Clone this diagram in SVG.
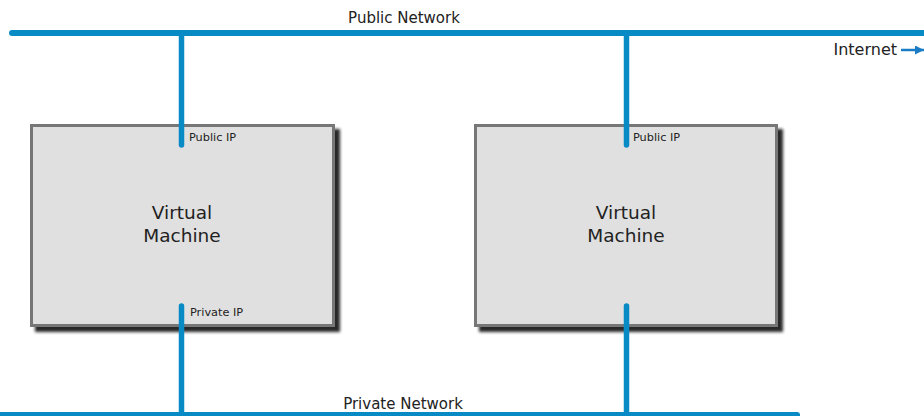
<svg xmlns="http://www.w3.org/2000/svg" width="924" height="416" viewBox="0 0 924 416">
<style>
.net{stroke:#088bc4;stroke-width:6;stroke-linecap:round;fill:none}
.link{stroke:#088bc4;stroke-width:5.5;stroke-linecap:round;fill:none}
.box{fill:#e0e0e0;stroke:#777;stroke-width:3;filter:url(#sh)}
text{font-family:"DejaVu Sans","Verdana",sans-serif;fill:#222}
.lbl{font-size:15px}
.vm{font-size:18.5px;text-anchor:middle}
.ip{font-size:11.3px}
</style>
<defs>
<filter id="sh" x="-10%" y="-10%" width="130%" height="130%">
<feDropShadow dx="5" dy="5" stdDeviation="1.4" flood-color="#1a1a1a" flood-opacity="0.95"/>
</filter>
<marker id="arr" viewBox="0 0 10 10" refX="10" refY="5" markerWidth="3.6" markerHeight="3.6" orient="auto" markerUnits="strokeWidth">
<path d="M0,0 L10,5 L0,10 z" fill="#1a7cc4"/>
</marker>
</defs>
<g id="vm1">
<rect class="box" x="31.5" y="125.5" width="302" height="200"/>
<text class="vm" x="182" y="219">Virtual</text>
<text class="vm" x="182" y="242">Machine</text>
<text class="ip" x="189" y="141">Public IP</text>
<text class="ip" x="190" y="316">Private IP</text>
</g>
<g id="vm2">
<rect class="box" x="475.5" y="125.5" width="301" height="200"/>
<text class="vm" x="626" y="219">Virtual</text>
<text class="vm" x="626" y="242">Machine</text>
<text class="ip" x="633" y="141">Public IP</text>
</g>
<g id="connectors">
<line class="net" x1="12" y1="33" x2="930" y2="33"/>
<line class="net" x1="-10" y1="415" x2="797" y2="415"/>
<line class="link" x1="181.5" y1="33" x2="181.5" y2="145"/>
<line class="link" x1="626.5" y1="33" x2="626.5" y2="145"/>
<line class="link" x1="181.5" y1="306" x2="181.5" y2="420"/>
<line class="link" x1="626.5" y1="306" x2="626.5" y2="420"/>
<line x1="901" y1="50" x2="924" y2="50" stroke="#1a7cc4" stroke-width="2.5" marker-end="url(#arr)"/>
</g>
<g id="labels">
<text class="lbl" x="404" y="23" text-anchor="middle">Public Network</text>
<text class="lbl" x="403" y="409" text-anchor="middle">Private Network</text>
<text class="lbl" x="897" y="55" text-anchor="end" style="font-size:16px">Internet</text>
</g>
</svg>
